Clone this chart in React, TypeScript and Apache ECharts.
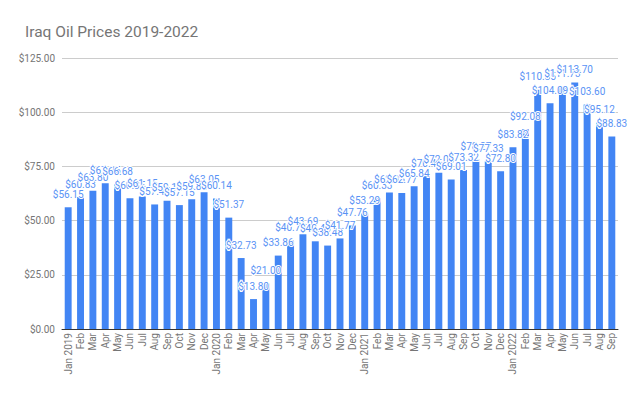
import React, { useEffect, useRef } from "react";
import * as echarts from "echarts";

const months = ["Jan", "Feb", "Mar", "Apr", "May", "Jun", "Jul", "Aug", "Sep", "Oct", "Nov", "Dec"];
const years = [2019, 2020, 2021, 2022];
const lastYearMonths = 9;

const categories: string[] = [];
years.forEach((y, yi) => {
  const n = yi === years.length - 1 ? lastYearMonths : 12;
  for (let m = 0; m < n; m++) categories.push(m === 0 ? `Jan ${y}` : months[m]);
});

const prices2019 = [56.15, 60.83, 63.8, 67.25, 66.68, 60.35, 61.15, 57.45, 59.1, 57.15, 59.85, 63.05];
const prices2020 = [60.14, 51.37, 32.73, 13.8, 21.0, 33.86, 40.75, 43.69, 40.45, 38.48, 41.77, 47.76];
const prices2021 = [53.29, 60.33, 62.95, 62.77, 65.84, 70.45, 72.05, 69.01, 73.32, 78.27, 77.33, 72.8];
const prices2022 = [83.82, 92.08, 110.35, 104.09, 111.73, 113.7, 103.6, 95.12, 88.83];

const prices = [...prices2019, ...prices2020, ...prices2021, ...prices2022];

const yTicks = { min: 0, max: 125, interval: 25 };

export default function App() {
  const ref = useRef<HTMLDivElement>(null);
  useEffect(() => {
    if (!ref.current) return;
    const chart = echarts.init(ref.current, undefined, { renderer: "svg" });
    chart.setOption({
      animation: false,
      backgroundColor: "#ffffff",
      title: {
        text: "Iraq Oil Prices 2019-2022",
        left: 20,
        top: 19,
        textStyle: { fontFamily: "Roboto", fontSize: 15.5, fontWeight: "normal", color: "#757575" },
      },
      grid: { left: 62, right: 22, top: 58, bottom: 67, containLabel: false },
      xAxis: {
        type: "category",
        data: categories,
        axisLine: { show: true, lineStyle: { color: "#333333", width: 1 } },
        axisTick: { show: false },
        axisLabel: {
          interval: 0,
          rotate: 90,
          fontFamily: "Roboto",
          fontSize: 10,
          color: "#757575",
          margin: 4,
        },
      },
      yAxis: {
        type: "value",
        min: yTicks.min,
        max: yTicks.max,
        interval: yTicks.interval,
        axisLine: { show: false },
        axisTick: { show: false },
        splitLine: { lineStyle: { color: "#cccccc", width: 1 } },
        axisLabel: {
          fontFamily: "Roboto",
          fontSize: 10,
          color: "#757575",
          margin: 7,
          formatter: (v: number) => "$" + v.toFixed(2),
        },
      },
      series: [
        {
          type: "bar",
          data: prices,
          barWidth: "56%",
          itemStyle: { color: "#4285f4" },
          label: {
            show: true,
            position: "top",
            distance: 8,
            fontFamily: "Roboto",
            fontSize: 10,
            color: "#5a93f5",
            textBorderColor: "#ffffff",
            textBorderWidth: 2,
            formatter: (p: any) => "$" + Number(p.value).toFixed(2),
          },
        },
      ],
    });
    return () => chart.dispose();
  }, []);
  return (
    <div
      ref={ref}
      style={{ position: "fixed", left: 0, top: 0, width: 640, height: 396, background: "#fff" }}
    />
  );
}
